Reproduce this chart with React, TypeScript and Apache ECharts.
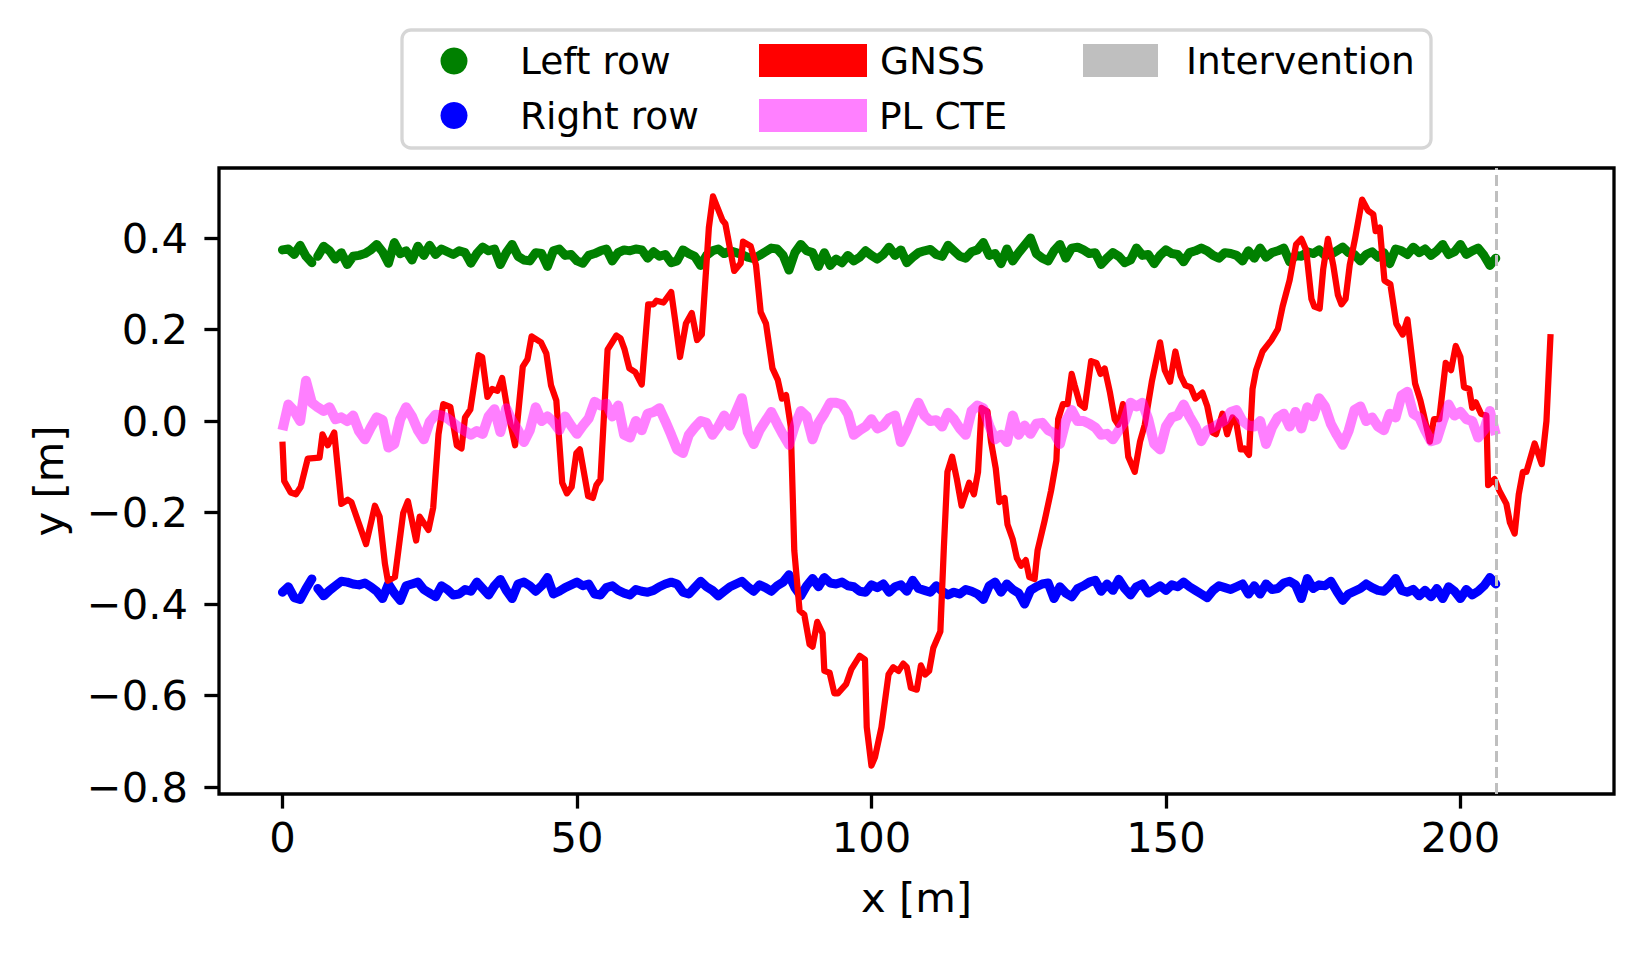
import React, { useEffect, useRef } from "react";
import * as echarts from "echarts";

// ---------- data ----------
const ROW_X_START = 0; // metres
const ROW_X_STEP = 1; // metres between samples
const ROW_GAP_AFTER_INDEX = 5; // rows have a short gap after x = 5 m

const LEFT_ROW = [
  0.374, 0.376, 0.364, 0.384, 0.36, 0.346,
  0.36, 0.382, 0.372, 0.354,
  0.368, 0.342, 0.36, 0.362, 0.366, 0.374, 0.386, 0.37, 0.345, 0.39,
  0.366, 0.372, 0.352, 0.382, 0.362, 0.384, 0.364, 0.376, 0.37, 0.364,
  0.372, 0.368, 0.345, 0.366, 0.38, 0.372, 0.376, 0.342, 0.368, 0.386,
  0.36, 0.352, 0.35, 0.368, 0.366, 0.338, 0.372, 0.376, 0.362, 0.364,
  0.35, 0.345, 0.362, 0.366, 0.372, 0.376, 0.35, 0.368, 0.374, 0.372,
  0.376, 0.374, 0.356, 0.37, 0.36, 0.364, 0.346, 0.35, 0.374, 0.366,
  0.36, 0.34, 0.362, 0.372, 0.376, 0.366, 0.372, 0.368, 0.364, 0.358,
  0.355, 0.362, 0.37, 0.378, 0.376, 0.362, 0.33, 0.368, 0.386, 0.372,
  0.368, 0.338, 0.368, 0.34, 0.354, 0.346, 0.362, 0.35, 0.358, 0.372,
  0.362, 0.354, 0.364, 0.38, 0.362, 0.374, 0.346, 0.358, 0.368, 0.372,
  0.375, 0.364, 0.36, 0.384, 0.372, 0.36, 0.356, 0.37, 0.374, 0.39,
  0.362, 0.366, 0.344, 0.376, 0.35, 0.368, 0.384, 0.4, 0.366, 0.356,
  0.35, 0.372, 0.386, 0.356, 0.378, 0.38, 0.374, 0.366, 0.368, 0.342,
  0.356, 0.368, 0.36, 0.346, 0.352, 0.378, 0.362, 0.364, 0.344, 0.362,
  0.374, 0.366, 0.364, 0.348, 0.368, 0.372, 0.378, 0.372, 0.362, 0.356,
  0.368, 0.366, 0.362, 0.35, 0.372, 0.356, 0.378, 0.358, 0.368, 0.372,
  0.378, 0.348, 0.362, 0.36, 0.37, 0.366, 0.374, 0.362, 0.364, 0.372,
  0.38, 0.368, 0.364, 0.35, 0.364, 0.37, 0.358, 0.368, 0.344, 0.376,
  0.372, 0.364, 0.38, 0.368, 0.376, 0.362, 0.372, 0.386, 0.364, 0.37,
  0.386, 0.364, 0.372, 0.378, 0.362, 0.34, 0.356,
];

const RIGHT_ROW = [
  -0.374, -0.362, -0.386, -0.39, -0.366, -0.345,
  -0.366, -0.382, -0.37, -0.36,
  -0.35, -0.352, -0.356, -0.358, -0.354, -0.362, -0.372, -0.388, -0.356, -0.376,
  -0.392, -0.36, -0.356, -0.352, -0.368, -0.376, -0.384, -0.36, -0.368, -0.38,
  -0.378, -0.368, -0.372, -0.352, -0.366, -0.38, -0.36, -0.346, -0.37, -0.388,
  -0.356, -0.352, -0.36, -0.372, -0.36, -0.342, -0.378, -0.372, -0.364, -0.358,
  -0.352, -0.36, -0.356, -0.378, -0.38, -0.364, -0.36, -0.37, -0.376, -0.38,
  -0.368, -0.372, -0.374, -0.37, -0.362, -0.356, -0.352, -0.356, -0.374, -0.378,
  -0.364, -0.35, -0.362, -0.37, -0.382, -0.372, -0.362, -0.356, -0.35, -0.362,
  -0.372, -0.358, -0.364, -0.372, -0.36, -0.352, -0.336, -0.364, -0.382, -0.36,
  -0.344, -0.362, -0.342, -0.354, -0.356, -0.352, -0.36, -0.362, -0.372, -0.374,
  -0.358, -0.364, -0.356, -0.374, -0.362, -0.358, -0.372, -0.348, -0.366, -0.37,
  -0.374, -0.36, -0.372, -0.38, -0.374, -0.378, -0.368, -0.372, -0.378, -0.39,
  -0.36, -0.352, -0.374, -0.356, -0.368, -0.376, -0.4, -0.37, -0.362, -0.356,
  -0.354, -0.388, -0.362, -0.376, -0.384, -0.366, -0.36, -0.352, -0.348, -0.372,
  -0.356, -0.37, -0.346, -0.366, -0.38, -0.362, -0.356, -0.376, -0.368, -0.36,
  -0.37, -0.358, -0.362, -0.352, -0.362, -0.37, -0.378, -0.386, -0.37, -0.36,
  -0.364, -0.368, -0.362, -0.356, -0.378, -0.36, -0.378, -0.356, -0.368, -0.366,
  -0.354, -0.35, -0.358, -0.388, -0.344, -0.366, -0.358, -0.36, -0.35, -0.372,
  -0.392, -0.378, -0.372, -0.366, -0.356, -0.364, -0.37, -0.372, -0.36, -0.344,
  -0.37, -0.374, -0.368, -0.382, -0.37, -0.384, -0.366, -0.388, -0.362, -0.372,
  -0.388, -0.368, -0.38, -0.372, -0.36, -0.342, -0.356,
];

const PL_CTE = [
  -0.02, 0.036, 0.022, 0.0, 0.088, 0.04, 0.03, 0.022, 0.03, 0.004,
  0.008, 0.0, 0.012, -0.022, -0.04, -0.014, 0.008, 0.002, -0.058, -0.05,
  0.004, 0.03, 0.01, -0.02, -0.04, -0.002, 0.014, 0.012, 0.006, -0.004,
  -0.014, -0.022, -0.03, -0.022, -0.028, 0.01, 0.026, -0.024, 0.028, 0.0,
  -0.02, -0.046, -0.02, 0.03, 0.0, 0.01, -0.002, -0.02, 0.01, -0.01,
  -0.028, -0.01, 0.006, 0.042, 0.034, 0.038, 0.01, 0.034, -0.03, -0.036,
  0.0, -0.02, 0.016, 0.02, 0.028, 0.0, -0.03, -0.062, -0.07, -0.03,
  -0.014, 0.0, -0.004, -0.03, -0.012, 0.012, -0.01, 0.02, 0.05, -0.024,
  -0.05, -0.02, 0.0, 0.02, -0.006, -0.03, -0.052, -0.01, 0.022, 0.01,
  -0.04, -0.004, 0.016, 0.04, 0.04, 0.036, 0.016, -0.03, -0.02, -0.012,
  0.004, -0.016, -0.01, 0.006, 0.012, -0.046, -0.02, 0.012, 0.04, 0.012,
  0.0, 0.002, -0.012, 0.018, 0.004, -0.016, -0.03, 0.022, 0.034, 0.028,
  -0.01, -0.04, -0.03, -0.046, 0.012, -0.03, -0.01, -0.028, -0.006, -0.004,
  -0.02, -0.026, -0.05, 0.0, 0.024, 0.0, 0.0, -0.006, -0.014, -0.03,
  -0.028, -0.04, -0.02, 0.0, 0.04, 0.032, 0.04, 0.004, -0.05, -0.062,
  -0.012, 0.008, 0.012, 0.036, 0.01, -0.012, -0.044, -0.02, -0.014, -0.006,
  0.002, 0.02, 0.024, 0.0, -0.01, -0.012, 0.0, -0.05, -0.014, 0.008,
  0.016, -0.012, 0.02, -0.016, 0.03, 0.01, 0.05, 0.032, -0.006, -0.03,
  -0.052, -0.022, 0.024, 0.032, 0.0, 0.008, -0.012, -0.02, 0.016, 0.008,
  0.056, 0.064, 0.016, 0.008, -0.02, -0.044, -0.04, 0.0, 0.036, 0.012,
  0.02, 0.004, 0.0, -0.036, -0.02, 0.022, -0.03,
];

const GNSS_X = [
  0, 0.3, 1.4, 2.3, 3.1, 4.3, 6.3, 6.8, 7.7, 8.8,
  10.0, 11.1, 11.7, 14.2, 15.7, 16.5, 17.4, 17.9, 19.1, 20.5,
  21.3, 22.7, 23.3, 24.8, 25.6, 26.5, 27.3, 28.5, 29.6, 30.4,
  31.0, 31.9, 33.3, 33.9, 34.8, 35.6, 36.5, 37.3, 38.2, 39.5,
  40.8, 41.6, 42.3, 43.9, 44.8, 45.6, 46.5, 47.5, 48.3, 49.1,
  49.9, 50.5, 51.9, 52.7, 53.3, 54.0, 55.2, 56.7, 57.4, 58.1,
  58.9, 59.9, 61.0, 62.1, 63.0, 63.5, 64.7, 66.0, 66.7, 67.5,
  68.5, 69.5, 70.4, 71.2, 72.4, 73.1, 74.7, 75.2, 76.7, 77.8,
  78.2, 79.5, 80.4, 81.2, 82.1, 83.2, 84.1, 84.8, 85.5, 86.3,
  86.9, 87.8, 88.6, 89.5, 90.0, 90.8, 91.7, 92.0, 92.9, 93.7,
  94.3, 95.7, 96.6, 98.0, 98.9, 99.2, 100.0, 100.6, 101.7, 102.9,
  103.7, 104.6, 105.4, 106.0, 106.7, 107.7, 108.4, 109.1, 109.8, 110.5,
  111.7, 112.3, 112.9, 113.7, 114.5, 115.3, 116.6, 117.4, 118.1, 118.7,
  119.7, 120.3, 121.1, 121.7, 122.6, 123.1, 124.0, 124.7, 125.4, 126.2,
  126.8, 127.7, 128.2, 129.4, 130.5, 131.4, 131.7, 132.5, 133.3, 134.0,
  134.5, 135.4, 136.2, 137.3, 138.2, 138.9, 139.6, 140.5, 141.3, 141.9,
  142.7, 143.6, 144.7, 145.6, 146.4, 147.6, 149.0, 149.8, 150.7, 151.6,
  152.5, 153.3, 154.2, 155.0, 156.2, 157.0, 157.9, 158.5, 159.6, 160.4,
  161.3, 161.9, 162.7, 163.3, 164.1, 164.7, 165.3, 166.4, 167.9, 169.0,
  169.8, 171.0, 172.1, 173.0, 173.8, 174.7, 175.2, 176.1, 176.7, 177.5,
  178.4, 179.2, 179.8, 180.5, 181.2, 182.1, 183.3, 184.3, 185.2, 185.6,
  186.3, 187.1, 188.1, 189.1, 190.2, 191.0, 192.3, 193.2, 193.8, 194.8,
  195.5, 196.4, 197.5, 198.4, 199.2, 200.0, 200.6, 201.5, 202.0, 202.6,
  203.5, 204.4, 204.7, 205.8, 206.6, 207.8, 208.4, 209.2, 209.9, 210.6,
  211.2, 212.6, 213.8, 214.6, 215.3,
];

const GNSS_Y = [
  -0.045, -0.131, -0.156, -0.16, -0.144, -0.082, -0.08, -0.029, -0.053, -0.025,
  -0.181, -0.172, -0.177, -0.269, -0.185, -0.209, -0.312, -0.349, -0.341, -0.201,
  -0.175, -0.261, -0.209, -0.238, -0.189, -0.029, 0.037, 0.031, -0.053, -0.06,
  0.008, 0.025, 0.144, 0.14, 0.053, 0.07, 0.066, 0.094, 0.025, -0.053,
  0.119, 0.135, 0.185, 0.172, 0.148, 0.078, 0.045, -0.135, -0.158, -0.144,
  -0.07, -0.062, -0.164, -0.168, -0.14, -0.127, 0.156, 0.187, 0.181, 0.156,
  0.115, 0.107, 0.08, 0.255, 0.255, 0.263, 0.259, 0.282, 0.218, 0.14,
  0.213, 0.236, 0.177, 0.189, 0.423, 0.491, 0.439, 0.431, 0.328, 0.345,
  0.392, 0.382, 0.341, 0.238, 0.213, 0.115, 0.09, 0.049, 0.057, -0.012,
  -0.283, -0.414, -0.423, -0.488, -0.493, -0.439, -0.464, -0.546, -0.55, -0.595,
  -0.595, -0.575, -0.542, -0.513, -0.521, -0.669, -0.753, -0.735, -0.669, -0.554,
  -0.538, -0.546, -0.53, -0.538, -0.583, -0.587, -0.534, -0.554, -0.546, -0.496,
  -0.46, -0.275, -0.111, -0.078, -0.127, -0.185, -0.135, -0.16, -0.111, 0.029,
  0.021, -0.045, -0.103, -0.177, -0.168, -0.226, -0.259, -0.3, -0.316, -0.304,
  -0.341, -0.345, -0.283, -0.218, -0.152, -0.086, 0.004, 0.037, 0.037, 0.103,
  0.078, 0.037, 0.029, 0.131, 0.127, 0.103, 0.115, 0.062, 0.004, -0.008,
  0.037, -0.078, -0.111, -0.045, -0.008, 0.086, 0.172, 0.111, 0.086, 0.152,
  0.099, 0.078, 0.074, 0.049, 0.062, 0.033, -0.025, -0.029, 0.016, -0.029,
  0.008, 0.0, -0.062, -0.06, -0.074, 0.07, 0.111, 0.152, 0.177, 0.201,
  0.25, 0.308, 0.386, 0.398, 0.374, 0.267, 0.25, 0.246, 0.332, 0.398,
  0.341, 0.275, 0.255, 0.267, 0.341, 0.398, 0.484, 0.46, 0.452, 0.415,
  0.423, 0.307, 0.299, 0.213, 0.189, 0.222, 0.082, 0.045, 0.012, -0.045,
  0.004, 0.004, 0.127, 0.111, 0.164, 0.14, 0.074, 0.07, 0.029, 0.041,
  0.016, 0.012, -0.14, -0.127, -0.152, -0.181, -0.222, -0.246, -0.16, -0.111,
  -0.111, -0.049, -0.094, 0.0, 0.19,
];

const INTERVENTION_X = 206.0;
const X_TICKS = [0, 50, 100, 150, 200];
const Y_TICKS = [-0.8, -0.6, -0.4, -0.2, 0.0, 0.2, 0.4];
const X_RANGE = [-10.77, 226.07];
const Y_RANGE = [-0.815, 0.553];

const LEGEND_ITEMS = ["Left row", "Right row", "GNSS", "PL CTE", "Intervention"];

// ---------- helpers ----------
function rowPairs(values: number[], gapAfter: number) {
  const out: any[] = [];
  values.forEach((v, i) => {
    const x = ROW_X_START + i * ROW_X_STEP;
    out.push([x, v]);
    if (i === gapAfter) out.push([x + ROW_X_STEP / 2, "-"]);
  });
  return out;
}

const FONT = "DejaVu Sans";
const TICK_FS = 41.7;
const LEG_FS = 37.5;

function fmtY(v: number) {
  const s = Math.abs(v).toFixed(1);
  return v < -1e-9 ? "\u2212" + s : s;
}

export default function App() {
  const ref = useRef<HTMLDivElement>(null);

  useEffect(() => {
    if (!ref.current) return;
    const chart = echarts.init(ref.current, undefined, { renderer: "svg" });

    const gnssPairs = GNSS_X.map((x, i) => [x, GNSS_Y[i]]);

    const legendGraphic: any[] = [
      {
        type: "rect",
        shape: { x: 402, y: 30, width: 1029, height: 118, r: 9 },
        style: { fill: "#ffffff", stroke: "#d6d6d6", lineWidth: 3.3 },
        z: 100,
      },
      { type: "circle", shape: { cx: 454, cy: 61, r: 13.5 }, style: { fill: "#008000" }, z: 101 },
      { type: "circle", shape: { cx: 454, cy: 115.5, r: 13.5 }, style: { fill: "#0000ff" }, z: 101 },
      { type: "rect", shape: { x: 759, y: 44, width: 108, height: 33 }, style: { fill: "#ff0000" }, z: 101 },
      { type: "rect", shape: { x: 759, y: 99, width: 108, height: 33 }, style: { fill: "#ff80ff" }, z: 101 },
      { type: "rect", shape: { x: 1083, y: 44, width: 75, height: 33 }, style: { fill: "#bfbfbf" }, z: 101 },
      {
        type: "text", x: 520, y: 61, z: 101,
        style: { text: LEGEND_ITEMS[0], font: `${LEG_FS}px "${FONT}"`, fill: "#000", verticalAlign: "middle", align: "left" },
      },
      {
        type: "text", x: 520, y: 116, z: 101,
        style: { text: LEGEND_ITEMS[1], font: `${LEG_FS}px "${FONT}"`, fill: "#000", verticalAlign: "middle", align: "left" },
      },
      {
        type: "text", x: 880, y: 61, z: 101,
        style: { text: LEGEND_ITEMS[2], font: `${LEG_FS}px "${FONT}"`, fill: "#000", verticalAlign: "middle", align: "left" },
      },
      {
        type: "text", x: 879, y: 116, z: 101,
        style: { text: LEGEND_ITEMS[3], font: `${LEG_FS}px "${FONT}"`, fill: "#000", verticalAlign: "middle", align: "left" },
      },
      {
        type: "text", x: 1186, y: 61, z: 101,
        style: { text: LEGEND_ITEMS[4], font: `${LEG_FS}px "${FONT}"`, fill: "#000", verticalAlign: "middle", align: "left" },
      },
    ];

    const option: any = {
      animation: false,
      backgroundColor: "#ffffff",
      textStyle: { fontFamily: FONT },
      grid: {
        left: 219,
        top: 168,
        width: 1395,
        height: 626,
        show: true,
        borderColor: "#000000",
        borderWidth: 3.3,
        backgroundColor: "transparent",
        containLabel: false,
      },
      xAxis: {
        type: "value",
        position: "bottom",
        min: X_RANGE[0],
        max: X_RANGE[1],
        name: "x [m]",
        nameLocation: "middle",
        nameGap: 82,
        nameTextStyle: { fontSize: TICK_FS, color: "#000", fontFamily: FONT },
        axisLine: { show: false, onZero: false },
        axisTick: {
          show: true,
          customValues: X_TICKS,
          length: 14.6,
          lineStyle: { color: "#000", width: 3.3 },
        },
        axisLabel: {
          customValues: X_TICKS,
          fontSize: TICK_FS,
          color: "#000",
          fontFamily: FONT,
          margin: 22,
          formatter: (v: number) => String(Math.round(v)),
        },
        splitLine: { show: false },
      },
      yAxis: {
        type: "value",
        position: "left",
        min: Y_RANGE[0],
        max: Y_RANGE[1],
        name: "y [m]",
        nameLocation: "middle",
        nameRotate: 90,
        nameGap: 150,
        nameTextStyle: { fontSize: TICK_FS, color: "#000", fontFamily: FONT },
        axisLine: { show: false, onZero: false },
        axisTick: {
          show: true,
          customValues: Y_TICKS,
          length: 14.6,
          lineStyle: { color: "#000", width: 3.3 },
        },
        axisLabel: {
          customValues: Y_TICKS,
          fontSize: TICK_FS,
          color: "#000",
          fontFamily: FONT,
          margin: 31,
          formatter: fmtY,
        },
        splitLine: { show: false },
      },
      graphic: legendGraphic,
      series: [
        {
          name: "Left row",
          type: "line",
          data: rowPairs(LEFT_ROW, ROW_GAP_AFTER_INDEX),
          showSymbol: false,
          connectNulls: false,
          lineStyle: { color: "#008000", width: 9, cap: "round", join: "round" },
          itemStyle: { color: "#008000" },
          silent: true,
        },
        {
          name: "Right row",
          type: "line",
          data: rowPairs(RIGHT_ROW, ROW_GAP_AFTER_INDEX),
          showSymbol: false,
          connectNulls: false,
          lineStyle: { color: "#0000ff", width: 9, cap: "round", join: "round" },
          itemStyle: { color: "#0000ff" },
          silent: true,
        },
        {
          name: "GNSS",
          type: "line",
          data: gnssPairs,
          showSymbol: false,
          lineStyle: { color: "#ff0000", width: 6.25, join: "round" },
          itemStyle: { color: "#ff0000" },
          silent: true,
          markLine: {
            silent: true,
            symbol: ["none", "none"],
            label: { show: false },
            lineStyle: { color: "#bfbfbf", width: 3, type: [11, 5] },
            data: [{ xAxis: INTERVENTION_X }],
          },
        },
        {
          name: "PL CTE",
          type: "line",
          data: rowPairs(PL_CTE, -1),
          showSymbol: false,
          lineStyle: { color: "#ff00ff", width: 10, opacity: 0.5, join: "round" },
          itemStyle: { color: "#ff00ff" },
          silent: true,
        },
      ],
    };

    chart.setOption(option);
    return () => chart.dispose();
  }, []);

  return (
    <div
      ref={ref}
      style={{ position: "absolute", left: 0, top: 0, width: 1644, height: 953, background: "#fff" }}
    />
  );
}
